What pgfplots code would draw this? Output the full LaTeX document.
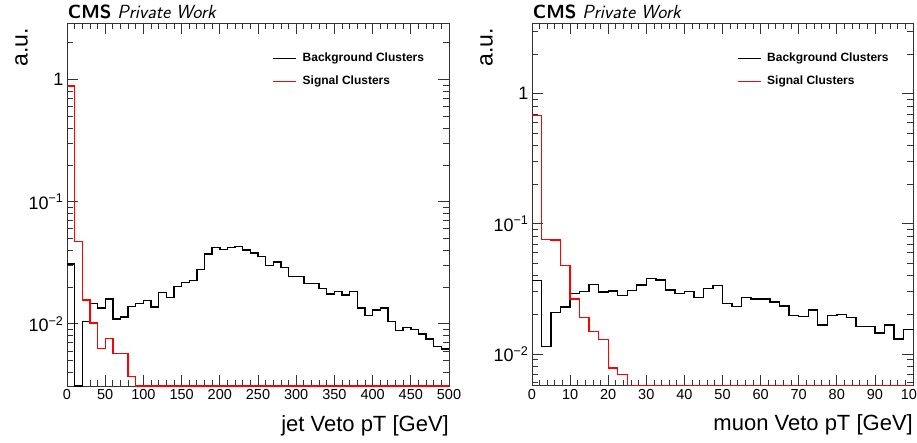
\documentclass[border=0pt]{standalone}
\usepackage{pgfplots}
\pgfplotsset{compat=1.18}
\usepackage{pgfplotstable}
\usepackage{fontspec}
\setmainfont{Liberation Sans}

\pgfplotstableread{
x y
0 0.031
10 0.0031
20 0.01046
30 0.0146
40 0.01345
50 0.01595
60 0.01094
70 0.01137
80 0.01387
90 0.0146
100 0.0155
110 0.0137
120 0.0181
130 0.0164
140 0.0202
150 0.0218
160 0.0226
170 0.0277
180 0.0372
190 0.0421
200 0.0408
210 0.0421
220 0.0429
230 0.0403
240 0.0379
250 0.0355
260 0.0300
270 0.0320
280 0.0289
290 0.0244
300 0.0244
310 0.0213
320 0.0215
330 0.0194
340 0.0175
350 0.0185
360 0.0172
370 0.0184
380 0.01345
390 0.01164
400 0.0130
410 0.01345
420 0.01046
430 0.00879
440 0.00935
450 0.00895
460 0.00826
470 0.0075
480 0.00654
490 0.00622
500 0.00622
}\jetbkg

\pgfplotstableread{
x y
0 0.887
10 0.0471
20 0.0157
30 0.0102
40 0.00626
50 0.00755
60 0.0057
70 0.0057
80 0.0037
90 0.0031
500 0.0031
}\jetsig

\pgfplotstableread{
x y
0 0.0366
2.5 0.01139
5 0.0208
7.5 0.0229
10 0.0291
12.5 0.0301
15 0.0343
17.5 0.0300
20 0.0305
22.5 0.0281
25 0.0309
27.5 0.0340
30 0.0379
32.5 0.0369
35 0.0310
37.5 0.0290
40 0.0301
42.5 0.0273
45 0.0320
47.5 0.0335
50 0.0245
52.5 0.0231
55 0.0271
57.5 0.0265
60 0.0264
62.5 0.0250
65 0.0233
67.5 0.0197
70 0.0195
72.5 0.0217
75 0.0167
77.5 0.0197
80 0.0202
82.5 0.0191
85 0.0162
87.5 0.0162
90 0.0145
92.5 0.0167
95 0.0130
97.5 0.0154
100 0.0154
}\mubkg

\pgfplotstableread{
x y
0 0.681
2.5 0.0762
5 0.0753
7.5 0.0478
10 0.0264
12.5 0.0190
15 0.0149
17.5 0.0129
20 0.0078
22.5 0.00693
25 0.0057
100 0.0057
}\musig

\pgfplotsset{
  roothist/.style={const plot, no marks, line width=1.4pt},
  cmsax/.style={
    scale only axis,
    axis line style={black!80, line width=0.9pt},
    tick style={black!80, line width=0.8pt},
    major tick length=11pt, minor tick length=6pt,
    tick align=inside,
    xtick pos=both, ytick pos=both,
    /pgf/number format/assume math mode=true,
    xticklabel style={font=\fontsize{14.5}{16}\selectfont},
    yticklabel style={font=\fontsize{18}{20}\selectfont},
    ytick={0.01,0.1,1},
    yticklabels={10\textsuperscript{−2},10\textsuperscript{−1},1},
    xmin=0,
    clip=false,
    legend style={draw=none, fill=none, at={(0.537,0.919)}, anchor=north west,
      font=\bfseries\fontsize{12}{14}\selectfont, row sep=11pt, column sep=6pt,
      inner sep=0pt, nodes={inner sep=0pt, text height=9pt, text depth=3pt}},
    legend cell align=left,
    legend image code/.code={\draw[##1] (0pt,0pt) -- (23pt,0pt);},
    every axis x label/.style={at={(rel axis cs:1,-0.08)}, anchor=north east, inner sep=0pt, font=\fontsize{22}{24}\selectfont},
    every axis y label/.style={at={(rel axis cs:-0.102,0.986)}, rotate=90, anchor=south east, inner sep=0pt, font=\fontsize{23}{25}\selectfont},
    ylabel={a.u.},
  }
}

\begin{document}
\begin{tikzpicture}[x=1pt,y=1pt]
\useasboundingbox (0,0) rectangle (917,442);

\begin{semilogyaxis}[cmsax, at={(67pt,56pt)}, anchor=south west, width=382pt, height=363pt,
  xmax=500, ymin=0.0031, ymax=2.9,
  xtick={0,50,...,500}, minor x tick num=4,
  minor ytick={0.004,0.005,0.006,0.007,0.008,0.009,0.02,0.03,0.04,0.05,0.06,0.07,0.08,0.09,0.2,0.3,0.4,0.5,0.6,0.7,0.8,0.9,2},
  xlabel={jet Veto pT [GeV]}]
\addplot[roothist, black] table[x=x,y=y] {\jetbkg};
\addlegendentry{Background Clusters}
\addplot[roothist, red] table[x=x,y=y] {\jetsig};
\addlegendentry{Signal Clusters}
\end{semilogyaxis}

\begin{semilogyaxis}[cmsax, at={(532pt,56.3pt)}, anchor=south west, width=381pt, height=362.7pt,
  xmax=100, ymin=0.0057, ymax=3.5,
  xtick={0,10,...,100}, minor x tick num=4,
  minor ytick={0.006,0.007,0.008,0.009,0.02,0.03,0.04,0.05,0.06,0.07,0.08,0.09,0.2,0.3,0.4,0.5,0.6,0.7,0.8,0.9,2,3},
  xlabel={muon Veto pT [GeV]}]
\addplot[roothist, black] table[x=x,y=y] {\mubkg};
\addlegendentry{Background Clusters}
\addplot[roothist, red] table[x=x,y=y] {\musig};
\addlegendentry{Signal Clusters}
\end{semilogyaxis}

\node[anchor=base west, inner sep=0pt, font=\sffamily\fontsize{19}{21}\selectfont] at (67.7,423.7) {\textbf{CMS} \textit{Private Work}};
\node[anchor=base west, inner sep=0pt, font=\sffamily\fontsize{19}{21}\selectfont] at (532.7,423.7) {\textbf{CMS} \textit{Private Work}};
\end{tikzpicture}
\end{document}
